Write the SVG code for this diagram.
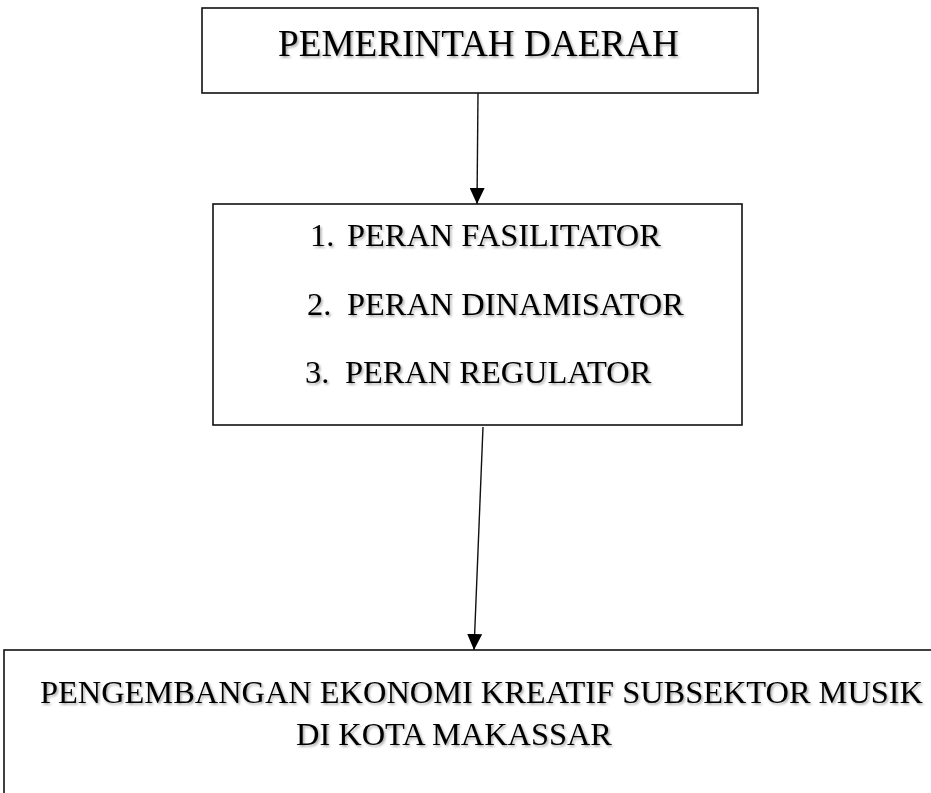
<svg xmlns="http://www.w3.org/2000/svg" width="931" height="793" viewBox="0 0 931 793">
<style>
.box{fill:#fff;stroke:#111;stroke-width:1.6}
.t{font-family:"Liberation Serif","Times New Roman",serif;fill:#000;filter:url(#sh)}
.m{font-size:32.4px}
.edge{stroke:#111;stroke-width:1.4;fill:none}
</style>
<defs>
<filter id="sh" x="-5%" y="-30%" width="110%" height="160%">
<feDropShadow dx="1.5" dy="1.8" stdDeviation="1" flood-color="#000" flood-opacity="0.35"/>
</filter>
<marker id="ah" markerWidth="16" markerHeight="15" refX="16" refY="7.5" orient="auto" markerUnits="userSpaceOnUse">
<path d="M0,0 L16,7.5 L0,15 Z" fill="#000"/>
</marker>
</defs>
<g id="node-pemda">
<rect class="box" x="202" y="8" width="556" height="85"/>
<text class="t" x="278" y="56" font-size="37.2">PEMERINTAH DAERAH</text>
</g>
<g id="node-peran">
<rect class="box" x="213" y="204" width="529" height="221"/>
<text class="t m"><tspan x="310" y="246">1.</tspan><tspan x="347" y="246">PERAN FASILITATOR</tspan></text>
<text class="t m"><tspan x="307" y="315">2.</tspan><tspan x="347" y="315">PERAN DINAMISATOR</tspan></text>
<text class="t m"><tspan x="305" y="383">3.</tspan><tspan x="345" y="383">PERAN REGULATOR</tspan></text>
</g>
<g id="node-pengembangan">
<rect class="box" x="4" y="650" width="940" height="160"/>
<text class="t m" x="40" y="703">PENGEMBANGAN EKONOMI KREATIF SUBSEKTOR MUSIK</text>
<text class="t m" x="296" y="745">DI KOTA MAKASSAR</text>
</g>
<g id="connectors">
<line class="edge" x1="478" y1="93" x2="477" y2="204" marker-end="url(#ah)"/>
<line class="edge" x1="483" y1="427" x2="474" y2="650" marker-end="url(#ah)"/>
</g>
</svg>
